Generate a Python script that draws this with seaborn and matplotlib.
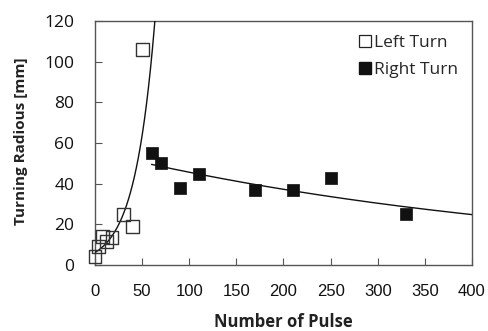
import numpy as np
import pandas as pd
import matplotlib
matplotlib.use("Agg")
import matplotlib.pyplot as plt
import seaborn as sns
from matplotlib.lines import Line2D

# Data
left_pulse = [0, 4, 8, 12, 18, 30, 40, 50]
left_radius = [4, 9, 14, 11.5, 13.5, 25, 19, 106]
right_pulse = [60, 70, 90, 110, 170, 210, 250, 330]
right_radius = [55, 50, 38, 45, 37, 37, 43, 25]
x_ticks = [0, 50, 100, 150, 200, 250, 300, 350, 400]
y_ticks = [0, 20, 40, 60, 80, 100, 120]
series_labels = ["Left Turn", "Right Turn"]

sns.set_style("white")
plt.rcParams['font.family'] = ['Open Sans', 'DejaVu Sans']

fig = plt.figure(figsize=(4.89, 3.31), dpi=100)
ax = fig.add_axes([95/489, (331-265)/331, (472-95)/489, (265-21)/331])

left_df = pd.DataFrame({"pulse": left_pulse, "radius": left_radius})
right_df = pd.DataFrame({"pulse": right_pulse, "radius": right_radius})

# Exponential trendlines (fitted from the data, as in a spreadsheet trendline)
bl, al = np.polyfit(left_df.pulse, np.log(left_df.radius), 1)
br, ar = np.polyfit(right_df.pulse, np.log(right_df.radius), 1)
xl = np.linspace(0, 70, 200)
xr = np.linspace(min(right_pulse), x_ticks[-1], 200)
fit_l = pd.DataFrame({"pulse": xl, "radius": np.exp(al + bl * xl)})
fit_r = pd.DataFrame({"pulse": xr, "radius": np.exp(ar + br * xr)})
sns.lineplot(data=fit_l, x="pulse", y="radius", ax=ax, color="#111111", lw=1.0, zorder=3)
sns.lineplot(data=fit_r, x="pulse", y="radius", ax=ax, color="#111111", lw=1.0, zorder=3)

ms = 85
sns.scatterplot(data=left_df, x="pulse", y="radius", ax=ax, marker="s", s=ms,
                facecolor="none", edgecolor="#333333", linewidth=1.0, zorder=4, clip_on=False)
sns.scatterplot(data=right_df, x="pulse", y="radius", ax=ax, marker="s", s=ms,
                color="#111111", edgecolor="#111111", linewidth=0.5, zorder=4)

ax.set_xlim(0, 400)
ax.set_ylim(0, 120)
ax.set_xticks(x_ticks)
ax.set_yticks(y_ticks)
ax.set_xticklabels([str(v) for v in x_ticks], fontfamily="Liberation Sans", fontsize=12)
ax.set_yticklabels([str(v) for v in y_ticks], fontsize=12.5)
ax.tick_params(axis="both", direction="in", length=5, width=0.8, color="#555555",
               bottom=True, left=True, top=False, right=False, colors="#111111")
ax.tick_params(axis="x", pad=14)
ax.tick_params(axis="y", pad=15)
for s in ax.spines.values():
    s.set_color("#555555")
    s.set_linewidth(1.0)

ax.set_xlabel("Number of Pulse", fontsize=12, fontweight="bold", color="#222222")
ax.set_ylabel("Turning Radious [mm]", fontsize=11, fontweight="bold", color="#222222")
ax.xaxis.set_label_coords(0.5, -0.195)
ax.yaxis.set_label_coords(-0.178, 0.508)

handles = [
    Line2D([], [], marker="s", ls="none", markersize=8, markerfacecolor="white",
           markeredgecolor="#222222", markeredgewidth=0.9),
    Line2D([], [], marker="s", ls="none", markersize=8, markerfacecolor="#111111",
           markeredgecolor="#111111"),
]
ax.legend(handles, series_labels, loc="upper right", frameon=False, fontsize=12.5,
          handletextpad=0.0, handlelength=1.0, labelspacing=0.6,
          bbox_to_anchor=(1.0, 1.0), borderaxespad=0.4)

fig.savefig("out.png", dpi=100)
